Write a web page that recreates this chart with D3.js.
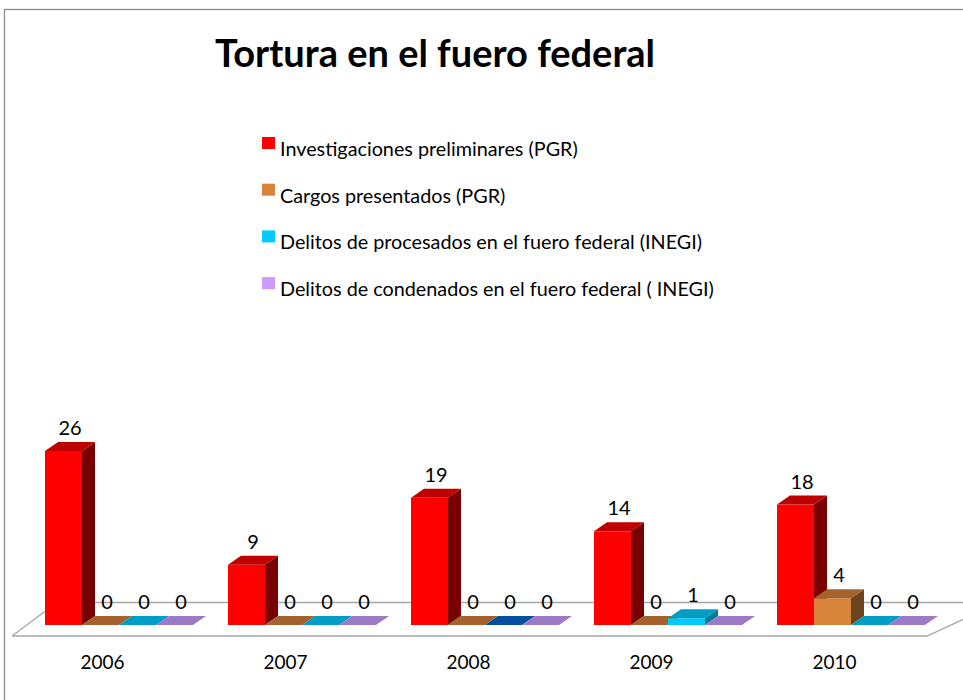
<!DOCTYPE html>
<html>
<head>
<meta charset="utf-8">
<script src="https://cdn.jsdelivr.net/npm/d3@7/dist/d3.min.js"></script>
<style>
  html, body { margin: 0; padding: 0; background: #fff; }
  svg { display: block; }
  text { font-family: Lato, "Open Sans", sans-serif; fill: #000; }
</style>
</head>
<body>
<svg id="chart" width="963" height="700"></svg>
<script>
// ---- data ----
const title = "Tortura en el fuero federal";
const years = ["2006", "2007", "2008", "2009", "2010"];
const seriesNames = [
  "Investigaciones preliminares (PGR)",
  "Cargos presentados (PGR)",
  "Delitos de procesados en el fuero federal (INEGI)",
  "Delitos de condenados en el fuero federal ( INEGI)"
];
const investigaciones = [26, 9, 19, 14, 18];
const cargos = [0, 0, 0, 0, 4];
const procesados = [0, 0, 0, 1, 0];
const condenados = [0, 0, 0, 0, 0];
const seriesValues = [investigaciones, cargos, procesados, condenados];

// ---- styles ----
const palette = [
  { front: "#FF0000", top: "#BE0000", side: "#780000" },
  { front: "#D9843B", top: "#A4622E", side: "#6B4420" },
  { front: "#00CCFF", top: "#009EC4", side: "#007A99" },
  { front: "#CC99FF", top: "#9D7AC6", side: "#6F5490" }
];
const pointTopOverride = { "2008|2": "#00509E" };

const svg = d3.select("#chart");

// outer border
svg.append("rect").attr("x", 4.5).attr("y", 9.5).attr("width", 1200).attr("height", 1200)
  .attr("fill", "none").attr("stroke", "#8C8C8C").attr("stroke-width", 1.3);

// title
svg.append("text").attr("x", 435).attr("y", 67).attr("text-anchor", "middle")
  .style("font-size", "38px").style("font-weight", "bold").text(title);

// legend
const legend = svg.append("g");
seriesNames.forEach((name, i) => {
  const yb = 156 + i * 46.7;
  legend.append("rect").attr("x", 262).attr("y", yb - 19).attr("width", 13).attr("height", 12)
    .attr("fill", palette[i].front);
  legend.append("text").attr("x", 280).attr("y", yb).style("font-size", "19.8px").text(name);
});

// scales
const baseY = 625;
const depthX = 13, depthY = -9;
const x0 = d3.scaleBand().domain(years).range([12, 927]);
const x1 = d3.scaleBand().domain(d3.range(seriesNames.length)).range([33, 181]);
const y = d3.scaleLinear().domain([0, 26]).range([baseY, 451]);

// floor
const floor = svg.append("g").attr("stroke", "#A6A6A6").attr("stroke-width", 1.3).attr("fill", "none");
floor.append("path").attr("d", `M12,636 L927,636 L1000,602.5 M12,636 L57,602.5 L1000,602.5`);

// bars
const bars = svg.append("g");
const labels = [];
years.forEach((yr, ci) => {
  seriesValues.forEach((vals, si) => {
    const v = vals[ci];
    const xl = x0(yr) + x1(si);
    const w = x1.bandwidth();
    const yt = y(v);
    const col = palette[si];
    const topCol = pointTopOverride[yr + "|" + si] || col.top;
    if (v > 0) {
      bars.append("rect").attr("x", xl).attr("y", yt).attr("width", w).attr("height", baseY - yt)
        .attr("fill", col.front);
      bars.append("path")
        .attr("d", `M${xl + w},${yt} L${xl + w + depthX},${yt + depthY} L${xl + w + depthX},${baseY + depthY} L${xl + w},${baseY} Z`)
        .attr("fill", col.side);
    }
    bars.append("path")
      .attr("d", `M${xl},${yt} L${xl + w},${yt} L${xl + w + depthX},${yt + depthY} L${xl + depthX},${yt + depthY} Z`)
      .attr("fill", topCol);
    labels.push({ x: xl + w / 2 + depthX / 2, y: yt + depthY - 7, t: String(v) });
  });
});

// data labels
svg.append("g").selectAll("text").data(labels).join("text")
  .attr("x", d => d.x).attr("y", d => d.y).attr("text-anchor", "middle")
  .style("font-size", "20px").text(d => d.t);

// category labels
svg.append("g").selectAll("text").data(years).join("text")
  .attr("x", d => x0(d) + x0.bandwidth() / 2 - 1).attr("y", 669).attr("text-anchor", "middle")
  .style("font-size", "19px").text(d => d);
</script>
</body>
</html>
